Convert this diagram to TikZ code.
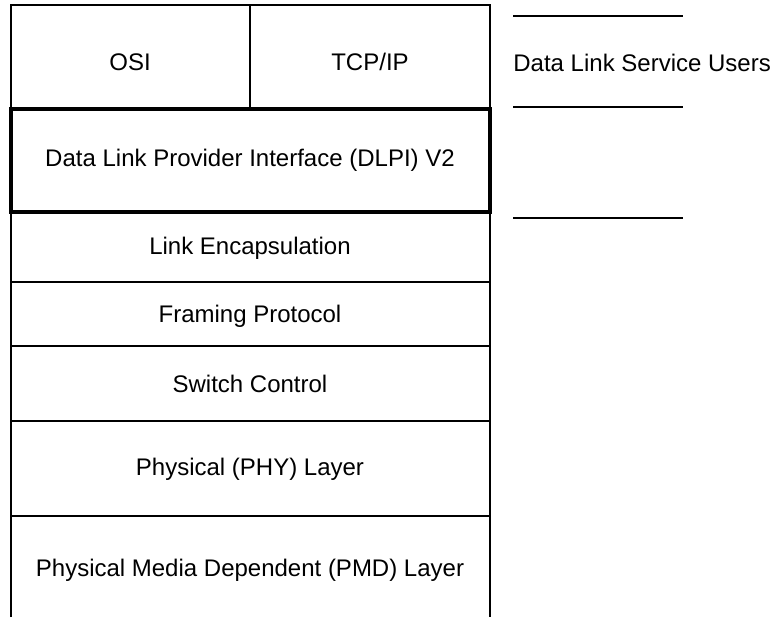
\documentclass[tikz,border=0pt]{standalone}
\usepackage{fontspec}
\setmainfont{Liberation Sans}
\begin{document}
\begin{tikzpicture}[x=0.5pt,y=-0.5pt,
  thin line/.style={draw=black,line width=0.7pt},
  thick line/.style={draw=black,line width=2pt},
  lbl/.style={font=\fontsize{12}{14}\selectfont,inner sep=0pt},
  sep line/.style={draw=black,line width=0.8pt}]
\useasboundingbox (0,0) rectangle (777,617);
% top row
\draw[thin line] (11,5) rectangle (250,108);
\draw[thin line] (250,5) rectangle (490,108);
% lower rows
\draw[thin line] (11,212) rectangle (490,282);
\draw[thin line] (11,282) rectangle (490,346);
\draw[thin line] (11,346) rectangle (490,421);
\draw[thin line] (11,421) rectangle (490,516);
\draw[thin line] (11,617) -- (11,516) -- (490,516) -- (490,617);
% DLPI thick box
\draw[thick line] (11,109) rectangle (490,212);
% labels
\node[lbl] (osi) at (130,62) {OSI};
\node[lbl] (tcp) at (370,62) {TCP/IP};
\node[lbl] (dlpi) at (250,160) {Data Link Provider Interface (DLPI) V2};
\node[lbl] (enc) at (250,248) {Link Encapsulation};
\node[lbl] (frm) at (250,316) {Framing Protocol};
\node[lbl] (sw) at (250,384) {Switch Control};
\node[lbl] (phy) at (250,469) {Physical (PHY) Layer};
\node[lbl] (pmd) at (250,570) {Physical Media Dependent (PMD) Layer};
% right side
\coordinate (l1a) at (513,16);  \coordinate (l1b) at (683,16);
\coordinate (l2a) at (513,107); \coordinate (l2b) at (683,107);
\coordinate (l3a) at (513,218); \coordinate (l3b) at (683,218);
\draw[sep line] (l1a) -- (l1b);
\draw[sep line] (l2a) -- (l2b);
\draw[sep line] (l3a) -- (l3b);
\node[lbl,anchor=west] (dlsu) at (513,63) {Data Link Service Users};
\end{tikzpicture}
\end{document}
